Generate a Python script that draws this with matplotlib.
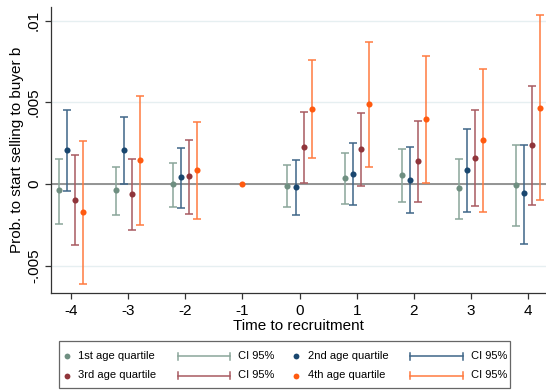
import matplotlib
matplotlib.use("Agg")
import matplotlib.pyplot as plt
from matplotlib.lines import Line2D
from matplotlib.patches import Rectangle
import numpy as np

plt.rcParams['font.family'] = ['Liberation Sans', 'DejaVu Sans']

times = [-4, -3, -2, -1, 0, 1, 2, 3, 4]
series_names = ["1st age quartile", "2nd age quartile", "3rd age quartile", "4th age quartile"]
colors = ["#6f8f81", "#1a476f", "#90353b", "#ff5a10"]
ci_colors = ["#8aa69a", "#3f6688", "#a85a60", "#ff7a40"]
offsets = [-0.21, -0.07, 0.07, 0.21]
nan = float('nan')

q1_est = [-0.00039, -0.00039, 0.0, nan, -0.00010, 0.00039, 0.00055, -0.00027, -0.00004]
q1_hi = [0.00155, 0.00106, 0.00131, nan, 0.00118, 0.00192, 0.00214, 0.00155, 0.00239]
q1_lo = [-0.00245, -0.00188, -0.00141, nan, -0.00141, -0.00122, -0.00112, -0.00214, -0.00255]

q2_est = [0.00206, 0.00206, 0.00041, nan, -0.00018, 0.00061, 0.00022, 0.00084, -0.00057]
q2_hi = [0.00451, 0.00408, 0.00222, nan, 0.00149, 0.00249, 0.00224, 0.00337, 0.00241]
q2_lo = [-0.00043, 0.0, -0.00145, nan, -0.00190, -0.00129, -0.00180, -0.00173, -0.00365]

q3_est = [-0.00096, -0.00061, 0.00049, nan, 0.00227, 0.00214, 0.00139, 0.00161, 0.00239]
q3_hi = [0.00178, 0.00155, 0.00271, nan, 0.00443, 0.00433, 0.00386, 0.00451, 0.00602]
q3_lo = [-0.00376, -0.00280, -0.00184, nan, 0.00006, -0.00012, -0.00110, -0.00135, -0.00129]

q4_est = [-0.00173, 0.00147, 0.00084, nan, 0.00459, 0.00492, 0.00400, 0.00269, 0.00467]
q4_hi = [0.00263, 0.00537, 0.00378, nan, 0.00757, 0.00869, 0.00784, 0.00706, 0.01033]
q4_lo = [-0.00614, -0.00249, -0.00216, nan, 0.00157, 0.00106, 0.00008, -0.00173, -0.00100]

# omitted reference period
ref_time = -1
ref_value = 0.0

ests = [q1_est, q2_est, q3_est, q4_est]
his = [q1_hi, q2_hi, q3_hi, q4_hi]
los = [q1_lo, q2_lo, q3_lo, q4_lo]

yticks = [-0.005, 0, 0.005, 0.01]
ytick_labels = ["-.005", "0", ".005", ".01"]

fig = plt.figure(figsize=(5.46, 3.9), dpi=100)
ax = fig.add_axes([0.0929, 0.248, 0.9071, 0.734])

for y in yticks:
    ax.axhline(y, color="#e6eff1", lw=1.0, zorder=0)
ax.axhline(0, color="#8c8c8c", lw=1.3, zorder=1)

for i in range(4):
    x = np.array(times) + offsets[i]
    est = np.array(ests[i])
    hi = np.array(his[i])
    lo = np.array(los[i])
    ax.errorbar(x, est, yerr=[est - lo, hi - est], fmt='none', ecolor=ci_colors[i],
                elinewidth=1.1, capsize=3.2, capthick=1.1, zorder=2 + i)
    ax.plot(x, est, 'o', color=colors[i], markersize=4.4, zorder=3 + i, markeredgewidth=0)
ax.plot([ref_time], [ref_value], 'o', color=colors[3], markersize=4.4, zorder=8, markeredgewidth=0)

ax.set_xlim(-4.35, 4.31)
ax.set_ylim(-0.00669, 0.01083)
ax.set_xticks(times)
ax.set_xticklabels([str(t) for t in times], fontsize=11)
ax.set_yticks(yticks)
ax.set_yticklabels(ytick_labels, fontsize=11, rotation=90, va='center')
ax.tick_params(axis='both', direction='out', length=4, width=0.9, color="#333333")
ax.tick_params(axis='y', pad=3)
for s in ['top', 'right']:
    ax.spines[s].set_visible(False)
for s in ['left', 'bottom']:
    ax.spines[s].set_color("#333333")
    ax.spines[s].set_linewidth(0.9)
ax.set_xlabel("Time to recruitment", fontsize=11, labelpad=1)
ax.set_ylabel("Prob. to start selling to buyer b", fontsize=11, labelpad=2)

# Legend
W, H = 546.0, 390.0
def fx(px):
    return px / W
def fy(py):
    return 1 - py / H

fig.add_artist(Rectangle((fx(59), fy(388)), fx(510) - fx(59), fy(341) - fy(388),
                         transform=fig.transFigure, fill=False, edgecolor="#666666", lw=0.9))
rows_y = [356, 375.5]
layout = [(0, 0, 0), (1, 0, 1), (2, 1, 0), (3, 1, 1)]  # series, row, col
col_px = [(66.7, 78, 177.7, 230, 238), (296, 308, 410, 463, 471)]
for si, r, c in layout:
    mx, tx, l0, l1, ctx = col_px[c]
    yy = fy(rows_y[r])
    fig.add_artist(Line2D([fx(mx)], [yy], marker='o', markersize=4.2, color=colors[si],
                          markeredgewidth=0, transform=fig.transFigure))
    fig.text(fx(tx), yy, series_names[si], fontsize=8, va='center', ha='left')
    fig.add_artist(Line2D([fx(l0), fx(l1)], [yy, yy], color=ci_colors[si], lw=1.1,
                          transform=fig.transFigure))
    for ex in (l0, l1):
        fig.add_artist(Line2D([fx(ex), fx(ex)], [yy - 3.5 / H, yy + 3.5 / H], color=ci_colors[si],
                              lw=1.1, transform=fig.transFigure))
    fig.text(fx(ctx), yy, "CI 95%", fontsize=8, va='center', ha='left')

fig.savefig("out.png", dpi=100)
